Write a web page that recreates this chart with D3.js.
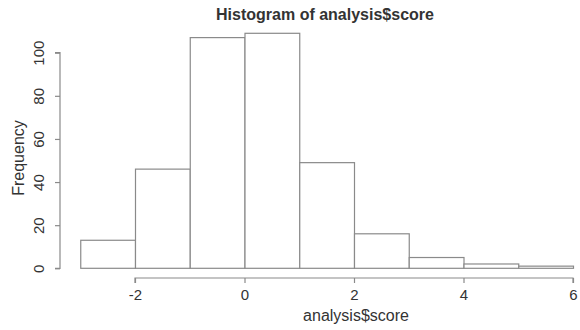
<!DOCTYPE html>
<html>
  <head>
    <meta charset="utf-8">
    <title>Histogram of analysis$score</title>
    <script src="https://cdnjs.cloudflare.com/ajax/libs/d3/7.8.5/d3.min.js"></script>
    <style>
      body { margin: 0; background: #fff; }
      text { font-family: "Liberation Sans", Arial, sans-serif; fill: #333; }
    </style>
  </head>
  <body>

    <svg class="hist" width="580" height="330"></svg>

    <script>

      // bin edges and counts
      var binStart = [-3, -2, -1, 0, 1, 2, 3, 4, 5];
      var binEnd   = [-2, -1, 0, 1, 2, 3, 4, 5, 6];
      var counts   = [13, 46, 107, 109, 49, 16, 5, 2, 1];
      var xTicks = [-2, 0, 2, 4, 6];
      var yTicks = [0, 20, 40, 60, 80, 100];

      var bins = binStart.map(function(s, i) {
        return { x0: s, x1: binEnd[i], n: counts[i] };
      });

      var x = d3.scaleLinear().domain([-2, 6]).range([135, 573]);
      var y = d3.scaleLinear().domain([0, 100]).range([268.3, 52.7]);

      var svg = d3.select("svg.hist");
      var lineColor = "#8a8a8a";

      svg.selectAll("rect.bar")
        .data(bins)
          .enter()
            .append("rect")
              .attr("class", "bar")
              .attr("x", function(d) { return x(d.x0) + 0.5; })
              .attr("y", function(d) { return y(d.n); })
              .attr("width", function(d) { return x(d.x1) - x(d.x0); })
              .attr("height", function(d) { return y(0) - y(d.n); })
              .attr("fill", "#fff")
              .attr("stroke", lineColor)
              .attr("stroke-width", 1.2);

      // x axis, R style: line only over tick range, plain hyphen minus
      var xAxis = d3.axisBottom(x).tickValues(xTicks).tickSize(5).tickPadding(6)
        .tickFormat(function(d) { return String(d); });
      var gx = svg.append("g").attr("transform", "translate(0,278)").call(xAxis);
      gx.select(".domain").attr("d", "M" + x(-2) + ",5V0H" + x(6) + "V5");

      var yAxis = d3.axisLeft(y).tickValues(yTicks).tickSize(5).tickPadding(4);
      var gy = svg.append("g").attr("transform", "translate(60,0)").call(yAxis);
      gy.select(".domain").attr("d", "M-5," + y(0) + "H0V" + y(100) + "H-5");
      gy.selectAll(".tick text")
        .attr("transform", "rotate(-90)")
        .attr("x", 0).attr("y", -16)
        .attr("dy", 0)
        .attr("text-anchor", "middle");

      svg.selectAll(".domain, .tick line").attr("stroke", lineColor).attr("stroke-width", 1.2);
      svg.selectAll(".tick text").style("font-size", "15px").attr("fill", "#333")
        .style("font-family", "'Liberation Sans', Arial, sans-serif");

      svg.append("text")
        .attr("x", 325).attr("y", 20)
        .attr("text-anchor", "middle")
        .style("font-size", "16px").style("font-weight", "bold")
        .text("Histogram of analysis$score");

      svg.append("text")
        .attr("x", 356).attr("y", 321)
        .attr("text-anchor", "middle")
        .style("font-size", "16px")
        .text("analysis$score");

      svg.append("text")
        .attr("transform", "translate(24,158) rotate(-90)")
        .attr("text-anchor", "middle")
        .style("font-size", "16px")
        .text("Frequency");

    </script>
  </body>
</html>
